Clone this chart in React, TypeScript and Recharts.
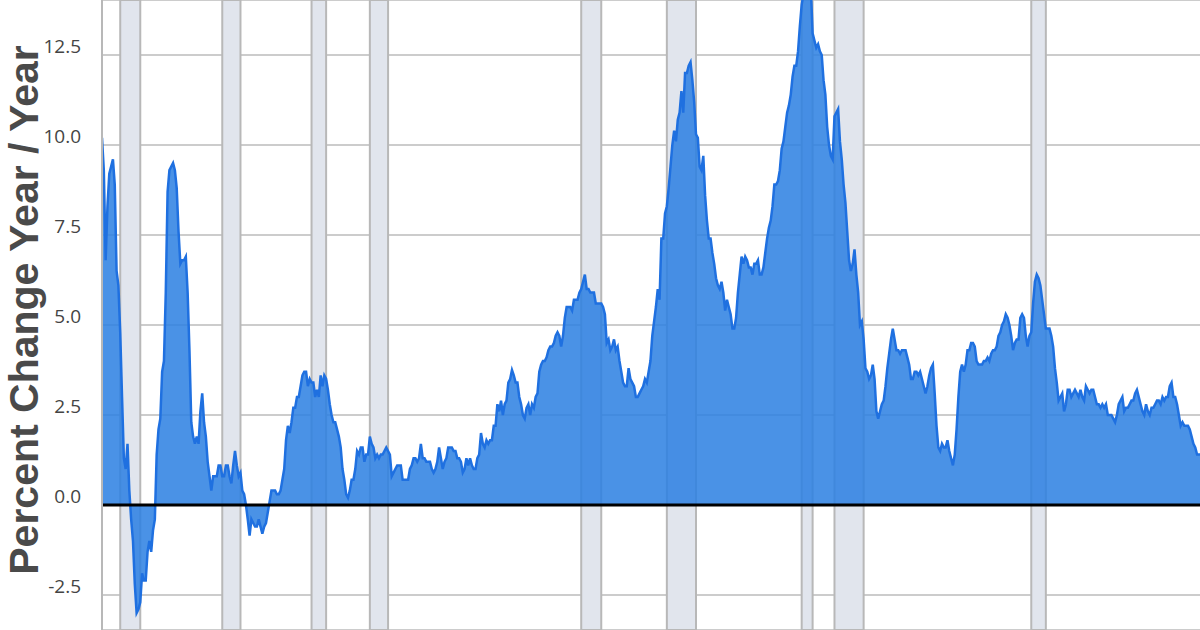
import React from "react";
import {
  ComposedChart,
  Area,
  XAxis,
  YAxis,
  CartesianGrid,
  ReferenceArea,
  ReferenceLine,
} from "recharts";

// CPI, percent change from a year ago, monthly, starting January 1948
const yoy1948to1959 = [
  10.2, 9.3, 6.8, 8.3, 9.2, 9.4, 9.6, 8.9, 6.5, 6.1, 4.8, 3.0,
  1.3, 1.0, 1.7, 0.4, -0.4, -1.0, -2.2, -3.0, -2.9, -2.7, -1.9, -2.1,
  -2.1, -1.3, -1.0, -1.3, -0.7, -0.4, 1.4, 2.1, 2.4, 3.7, 4.0, 5.9,
  8.7, 9.3, 9.4, 9.5, 9.3, 8.8, 7.6, 6.7, 6.8, 6.8, 6.9, 5.9,
  4.3, 2.3, 1.9, 1.7, 1.9, 1.7, 2.6, 3.1, 2.3, 1.9, 1.2, 0.8,
  0.4, 0.8, 0.8, 0.8, 1.1, 1.1, 0.8, 0.8, 1.1, 1.1, 0.8, 0.6,
  1.1, 1.5, 1.1, 0.8, 0.9, 0.4, 0.3, 0.0, -0.4, -0.85, -0.4, -0.5,
  -0.6, -0.6, -0.4, -0.6, -0.8, -0.6, -0.5, -0.2, 0.1, 0.4, 0.4, 0.4,
  0.3, 0.3, 0.4, 0.7, 1.0, 1.8, 2.2, 2.0, 2.3, 2.7, 2.7, 3.0,
  3.0, 3.3, 3.6, 3.7, 3.7, 3.3, 3.5, 3.4, 3.4, 3.0, 3.2, 3.0,
  3.6, 3.3, 3.6, 3.5, 3.2, 2.8, 2.5, 2.3, 2.3, 2.1, 1.9, 1.6,
  1.0, 0.7, 0.3, 0.2, 0.4, 0.7, 0.7, 1.0, 1.5, 1.4, 1.6, 1.6,
];

const yoy1960to1969 = [
  1.2, 1.4, 1.4, 1.9, 1.7, 1.6, 1.3, 1.4, 1.3, 1.4, 1.4, 1.5,
  1.6, 1.5, 1.4, 0.8, 0.9, 1.0, 1.1, 1.1, 1.1, 0.7, 0.7, 0.7,
  0.7, 1.0, 1.1, 1.3, 1.3, 1.2, 1.3, 1.7, 1.3, 1.3, 1.2, 1.2,
  1.2, 1.0, 0.9, 1.0, 1.2, 1.6, 1.3, 1.0, 1.2, 1.3, 1.6, 1.6,
  1.6, 1.5, 1.5, 1.3, 1.3, 1.2, 0.9, 1.0, 1.3, 1.1, 1.3, 1.1,
  1.0, 1.0, 1.3, 1.4, 2.0, 1.7, 1.6, 1.8, 1.7, 1.8, 1.8, 2.2,
  2.2, 2.8, 2.6, 2.9, 2.5, 2.8, 2.9, 3.4, 3.5, 3.75, 3.6, 3.4,
  3.4, 3.0, 2.8, 2.5, 2.4, 2.7, 2.8, 2.5, 2.8, 2.7, 3.0, 3.1,
  3.7, 3.9, 4.0, 4.0, 4.1, 4.3, 4.4, 4.4, 4.5, 4.7, 4.8, 4.7,
  4.4, 4.7, 5.2, 5.5, 5.5, 5.5, 5.4, 5.7, 5.7, 5.7, 5.9, 6.0,
];

const yoy1970to1979 = [
  6.2, 6.4, 6.0, 6.0, 5.9, 5.9, 5.9, 5.6, 5.6, 5.6, 5.6, 5.5,
  5.3, 4.5, 4.6, 4.3, 4.4, 4.6, 4.3, 4.4, 4.0, 3.7, 3.4, 3.3,
  3.3, 3.8, 3.5, 3.4, 3.3, 3.0, 3.0, 3.1, 3.2, 3.3, 3.5, 3.4,
  3.7, 4.0, 4.7, 5.1, 5.5, 6.0, 5.7, 7.4, 7.4, 8.1, 8.3, 8.8,
  9.4, 10.0, 10.4, 10.1, 10.7, 10.9, 11.5, 10.9, 12.0, 12.0, 12.2, 12.3,
  11.8, 11.2, 10.3, 10.2, 9.4, 9.3, 9.7, 8.6, 7.9, 7.4, 7.4, 7.0,
  6.7, 6.3, 6.1, 6.0, 6.2, 5.9, 5.4, 5.7, 5.5, 5.3, 4.9, 4.9,
  5.2, 5.9, 6.4, 6.9, 6.7, 6.9, 6.8, 6.6, 6.6, 6.4, 6.7, 6.7,
  6.8, 6.4, 6.4, 6.6, 7.0, 7.4, 7.7, 7.9, 8.3, 8.9, 8.9, 9.0,
  9.3, 9.9, 10.1, 10.5, 10.9, 11.1, 11.4, 11.9, 12.2, 12.2, 12.6, 13.3,
];

const yoy1980to1989 = [
  13.9, 14.2, 14.8, 14.7, 14.4, 14.4, 13.1, 12.9, 12.7, 12.8, 12.6, 12.5,
  11.8, 11.4, 10.5, 10.0, 9.7, 9.6, 10.8, 10.9, 11.0, 10.1, 9.6, 8.9,
  8.4, 7.6, 6.8, 6.5, 6.7, 7.1, 6.4, 5.9, 5.0, 5.1, 4.6, 3.8,
  3.7, 3.5, 3.6, 3.9, 3.5, 2.6, 2.4, 2.6, 2.8, 2.9, 3.3, 3.8,
  4.2, 4.6, 4.9, 4.6, 4.3, 4.3, 4.2, 4.3, 4.3, 4.3, 4.1, 3.9,
  3.5, 3.5, 3.7, 3.7, 3.6, 3.7, 3.5, 3.3, 3.1, 3.3, 3.6, 3.8,
  3.9, 3.1, 2.2, 1.6, 1.5, 1.7, 1.6, 1.6, 1.8, 1.5, 1.3, 1.1,
  1.4, 2.1, 3.0, 3.7, 3.9, 3.7, 3.9, 4.3, 4.3, 4.5, 4.5, 4.4,
  4.0, 3.9, 3.9, 3.9, 4.0, 4.0, 4.1, 4.0, 4.2, 4.3, 4.3, 4.4,
  4.7, 4.8, 5.0, 5.1, 5.3, 5.2, 5.0, 4.7, 4.3, 4.5, 4.6, 4.6,
];

const yoy1990to1998 = [
  5.2, 5.3, 5.2, 4.7, 4.4, 4.7, 4.8, 5.6, 6.2, 6.4, 6.3, 6.1,
  5.7, 5.3, 4.9, 4.9, 4.9, 4.7, 4.4, 3.8, 3.4, 2.9, 3.0, 3.1,
  2.6, 2.8, 3.2, 3.2, 3.0, 3.1, 3.2, 3.1, 3.0, 3.2, 3.0, 2.9,
  3.3, 3.2, 3.1, 3.2, 3.2, 3.0, 2.8, 2.8, 2.7, 2.8, 2.7, 2.8,
  2.5, 2.5, 2.5, 2.4, 2.3, 2.5, 2.8, 2.9, 3.0, 2.6, 2.7, 2.7,
  2.8, 2.9, 2.9, 3.1, 3.2, 3.0, 2.8, 2.6, 2.5, 2.8, 2.6, 2.5,
  2.7, 2.7, 2.8, 2.9, 2.9, 2.8, 3.0, 2.9, 3.0, 3.0, 3.3, 3.4,
  3.0, 3.0, 2.8, 2.5, 2.2, 2.3, 2.2, 2.2, 2.2, 2.1, 1.9, 1.7,
  1.6, 1.4, 1.4, 1.4,
];

// NBER recessions, [first month, last month]
const recessions: [string, string][] = [
  ["1948-11", "1949-10"],
  ["1953-07", "1954-05"],
  ["1957-08", "1958-04"],
  ["1960-04", "1961-02"],
  ["1969-12", "1970-11"],
  ["1973-11", "1975-03"],
  ["1980-01", "1980-07"],
  ["1981-07", "1982-11"],
  ["1990-07", "1991-03"],
];

const yTicks = [-2.5, 0, 2.5, 5, 7.5, 10, 12.5];

const startYear = 1948;
const monthly = [
  ...yoy1948to1959,
  ...yoy1960to1969,
  ...yoy1970to1979,
  ...yoy1980to1989,
  ...yoy1990to1998,
];
const data = monthly.map((v, i) => ({ t: startYear + i / 12, v }));

const toYear = (s: string) => {
  const [y, m] = s.split("-").map(Number);
  return y + (m - 1) / 12;
};

function YTick(props: any) {
  const { y, payload } = props;
  return (
    <text
      x={81}
      y={y - 2}
      textAnchor="end"
      fill="#444"
      fontSize={19}
      fontFamily="'Open Sans', 'Noto Sans', sans-serif"
    >
      {Number(payload.value).toFixed(1)}
    </text>
  );
}

export default function App() {
  return (
    <div
      style={{
        position: "absolute",
        left: 0,
        top: 0,
        width: 1200,
        height: 630,
        overflow: "hidden",
        background: "#fff",
      }}
    >
      <ComposedChart
        width={1200}
        height={630}
        data={data}
        margin={{ top: 0, right: 0, bottom: 0, left: 0 }}
      >
        <CartesianGrid vertical={false} stroke="#cccccc" strokeWidth={2} />
        <XAxis
          type="number"
          dataKey="t"
          domain={[1948, 1998.217]}
          allowDataOverflow
          hide
        />
        <YAxis
          type="number"
          domain={[-3.472, 14.028]}
          ticks={yTicks}
          allowDataOverflow
          width={102}
          axisLine={{ stroke: "#b8b8b8", strokeWidth: 2 }}
          tickLine={false}
          tick={<YTick />}
        />
        {recessions.map(([a, b]) => (
          <ReferenceArea
            key={a}
            x1={toYear(a)}
            x2={toYear(b)}
            fill="#e1e5ed"
            fillOpacity={1}
            stroke="#b8b8b8"
            strokeWidth={2}
          />
        ))}
        <Area
          type="linear"
          dataKey="v"
          baseValue={0}
          stroke="#1f70e0"
          strokeWidth={2.5}
          fill="#2a7fe2"
          fillOpacity={0.85}
          isAnimationActive={false}
          dot={false}
          activeDot={false}
        />
        <ReferenceLine y={0} stroke="#000" strokeWidth={3} />
      </ComposedChart>
      <svg
        width={60}
        height={630}
        style={{ position: "absolute", left: 0, top: 0 }}
      >
        <text
          transform="translate(38, 310) rotate(-90)"
          textAnchor="middle"
          fontSize={41}
          fontWeight="bold"
          fontFamily="'Liberation Sans', Arial, sans-serif"
          fill="#4a4a4a"
        >
          Percent Change Year / Year
        </text>
      </svg>
    </div>
  );
}
